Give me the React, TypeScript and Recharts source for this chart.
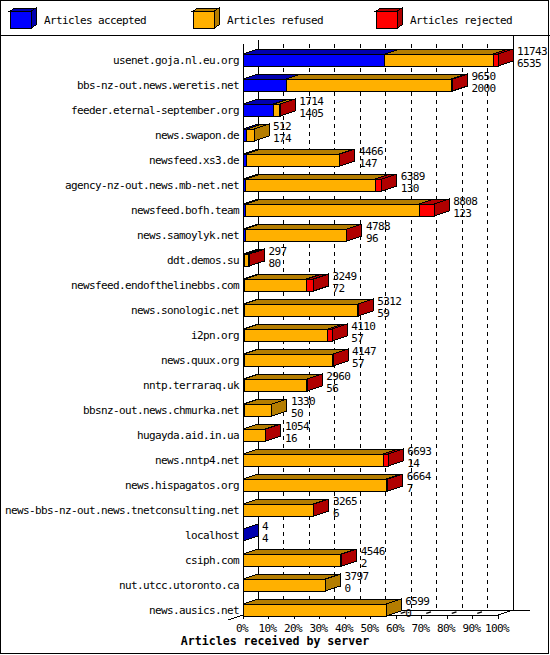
import React from 'react';
import { BarChart, Bar, XAxis, YAxis, CartesianGrid } from 'recharts';

const servers = [
  'usenet.goja.nl.eu.org',
  'bbs-nz-out.news.weretis.net',
  'feeder.eternal-september.org',
  'news.swapon.de',
  'newsfeed.xs3.de',
  'agency-nz-out.news.mb-net.net',
  'newsfeed.bofh.team',
  'news.samoylyk.net',
  'ddt.demos.su',
  'newsfeed.endofthelinebbs.com',
  'news.sonologic.net',
  'i2pn.org',
  'news.quux.org',
  'nntp.terraraq.uk',
  'bbsnz-out.news.chmurka.net',
  'hugayda.aid.in.ua',
  'news.nntp4.net',
  'news.hispagatos.org',
  'news-bbs-nz-out.news.tnetconsulting.net',
  'localhost',
  'csiph.com',
  'nut.utcc.utoronto.ca',
  'news.ausics.net',
];
const offered = [11743, 9650, 1714, 512, 4466, 6389, 8808, 4788, 297, 3249, 5312, 4110, 4147, 2960, 1330, 1054, 6693, 6664, 3265, 4, 4546, 3797, 6599];
const accepted = [6535, 2000, 1405, 174, 147, 130, 123, 96, 80, 72, 59, 57, 57, 56, 50, 16, 14, 7, 6, 4, 2, 0, 0];
const refused = [4978, 7590, 285, 338, 4294, 5964, 7995, 4680, 170, 2857, 5233, 3853, 4075, 2889, 1280, 1018, 6449, 6587, 3239, 0, 4504, 3797, 6599];
const rejected = [230, 60, 24, 0, 25, 295, 690, 12, 47, 320, 20, 200, 15, 15, 0, 20, 230, 70, 20, 0, 40, 0, 0];
const percentTicks = [0, 10, 20, 30, 40, 50, 60, 70, 80, 90, 100];
const legendLabels = ['Articles accepted', 'Articles refused', 'Articles rejected'];
const axisTitle = 'Articles received by server';

const MAX_OFFERED = Math.max(...offered);
const rows = servers.map((server, i) => ({
  server,
  offered: offered[i],
  accepted: accepted[i],
  acc: (accepted[i] / MAX_OFFERED) * 100,
  ref: (refused[i] / MAX_OFFERED) * 100,
  rej: (rejected[i] / MAX_OFFERED) * 100,
}));

const W = 550;
const H = 655;
const M_LEFT = 243;
const M_RIGHT = 52;
const PLOT_W = W - M_LEFT - M_RIGHT;
const DX = 15;
const DY = 5;
const BAR = 12;
const FONT = "'DejaVu Sans Mono', 'Liberation Mono', monospace";
const SERIES = ['acc', 'ref', 'rej'];
const FRONT: Record<string, string> = { acc: '#0000FF', ref: '#FFB000', rej: '#FF0000' };
const DARK: Record<string, string> = { acc: '#0000B0', ref: '#B47D00', rej: '#B00000' };

const txt = { fontFamily: FONT, fontSize: 11, letterSpacing: -0.62, fill: '#000' } as const;

function makeShape(key: string) {
  const me = SERIES.indexOf(key);
  return (props: any) => {
    const { x, y, width, height, payload } = props;
    if (!(width > 0) || !payload) return <g />;
    const isLast = SERIES.slice(me + 1).every((k) => !(payload[k] > 0));
    const x2 = x + width;
    const y2 = y + height;
    return (
      <g>
        <polygon
          points={`${x},${y} ${x2},${y} ${x2 + DX},${y - DY} ${x + DX},${y - DY}`}
          fill={DARK[key]}
          stroke="#000"
          strokeWidth={1}
          shapeRendering="crispEdges"
        />
        <rect x={x} y={y} width={width} height={height} fill={FRONT[key]} stroke="#000" strokeWidth={1} shapeRendering="crispEdges" />
        {isLast && (
          <polygon
            points={`${x2},${y} ${x2 + DX},${y - DY} ${x2 + DX},${y2 - DY} ${x2},${y2}`}
            fill={DARK[key]}
            stroke="#000"
            strokeWidth={1}
            shapeRendering="crispEdges"
          />
        )}
        {isLast && (
          <text x={x2 + DX + 4} y={y + 1} {...txt}>
            {payload.offered}
          </text>
        )}
        {isLast && (
          <text x={x2 + DX + 4} y={y2 + 0.5} {...txt}>
            {payload.accepted}
          </text>
        )}
      </g>
    );
  };
}

const accShape = makeShape('acc');
const refShape = makeShape('ref');
const rejShape = makeShape('rej');

const gridLine = (p: any) => {
  const { x1, y1, y2, index } = p;
  const pts: number[] | undefined = p.verticalPoints;
  const n = pts && pts.length ? pts.length : percentTicks.length;
  const floorFront = y2 - 7;
  const floorBack = floorFront - DY;
  const bx = x1 + DX;
  const ln = { stroke: '#000', strokeWidth: 1, shapeRendering: 'crispEdges' as const };
  if (index === 0) {
    const right = pts && pts.length ? pts[pts.length - 1] : x1 + PLOT_W;
    return (
      <g key={p.key}>
        <line x1={bx} y1={y1 - 7} x2={bx} y2={floorBack} {...ln} />
        <line x1={x1} y1={y1 - 3} x2={x1} y2={floorFront} {...ln} />
        <line x1={x1 - DX} y1={floorFront + DY} x2={x1} y2={floorFront} {...ln} />
        <line x1={x1} y1={floorFront} x2={right} y2={floorFront} {...ln} />
        <line x1={bx} y1={floorBack} x2={right + DX + 17} y2={floorBack} {...ln} />
        <line x1={x1} y1={floorFront} x2={x1} y2={floorFront + 4} {...ln} />
      </g>
    );
  }
  if (index === n - 1) {
    return (
      <g key={p.key}>
        <line x1={bx} y1={y1 - 11} x2={bx} y2={floorBack} {...ln} />
        <line x1={x1} y1={floorFront} x2={bx} y2={floorBack} {...ln} />
        <line x1={x1} y1={floorFront} x2={x1} y2={floorFront + 4} {...ln} />
      </g>
    );
  }
  return (
    <g key={p.key}>
      <line x1={bx} y1={y1 - 3} x2={bx} y2={floorBack} {...ln} strokeDasharray="4 4" />
      <line x1={x1} y1={floorFront} x2={bx} y2={floorBack} stroke="#000" strokeWidth={1.3} strokeDasharray="0 5 5 10" />
      <line x1={x1} y1={floorFront} x2={x1} y2={floorFront + 4} {...ln} />
    </g>
  );
};

const XTick = (p: any) => (
  <text x={p.x - 1} y={p.y + 10} textAnchor="middle" {...txt}>
    {`${p.payload.value}%`}
  </text>
);

const YTick = (p: any) => (
  <text x={p.x} y={p.y + 4.5} textAnchor="end" {...txt}>
    {p.payload.value}
  </text>
);

const TitleLabel = (lp: any) => {
  const vb = lp && lp.viewBox ? lp.viewBox : {};
  const y = (typeof vb.y === 'number' ? vb.y : 622) + 23;
  return (
    <text x={W / 2} y={y} textAnchor="middle" fontFamily={FONT} fontSize={11.6} fontWeight="bold" fill="#000">
      {axisTitle}
    </text>
  );
};

const legendX = [10, 193, 376];

function LegendBox({ x, k, label }: { x: number; k: string; label: string }) {
  const y = 11;
  const w = 21;
  const h = 17;
  const dx = 5;
  const dy = 3;
  return (
    <g shapeRendering="crispEdges">
      <polygon points={`${x},${y} ${x + w},${y} ${x + w + dx},${y - dy} ${x + dx},${y - dy}`} fill={DARK[k]} stroke="#000" />
      <polygon points={`${x + w},${y} ${x + w + dx},${y - dy} ${x + w + dx},${y + h - dy} ${x + w},${y + h}`} fill={DARK[k]} stroke="#000" />
      <rect x={x} y={y} width={w} height={h} fill={FRONT[k]} stroke="#000" />
      <text x={x + 34} y={24} {...txt}>
        {label}
      </text>
    </g>
  );
}

export default function App() {
  return (
    <div style={{ position: 'absolute', left: 0, top: 0, width: W, height: H, background: '#fff' }}>
      <BarChart
        width={W}
        height={H}
        data={rows}
        layout="vertical"
        margin={{ top: 47, right: M_RIGHT, bottom: 3, left: 0 }}
      >
        <CartesianGrid horizontal={false} vertical={gridLine} />
        <XAxis
          type="number"
          domain={[0, 100]}
          ticks={percentTicks}
          interval={0}
          axisLine={false}
          tickLine={false}
          tickSize={0}
          tickMargin={0}
          height={30}
          tick={XTick}
          label={{ content: TitleLabel }}
        />
        <YAxis
          type="category"
          dataKey="server"
          width={M_LEFT}
          interval={0}
          axisLine={false}
          tickLine={false}
          tickSize={0}
          tickMargin={4}
          tick={YTick}
        />
        <Bar dataKey="acc" stackId="s" barSize={BAR} isAnimationActive={false} shape={accShape} />
        <Bar dataKey="ref" stackId="s" barSize={BAR} isAnimationActive={false} shape={refShape} />
        <Bar dataKey="rej" stackId="s" barSize={BAR} isAnimationActive={false} shape={rejShape} />
      </BarChart>
      <svg width={W} height={H} style={{ position: 'absolute', left: 0, top: 0, pointerEvents: 'none' }}>
        <rect x={0.5} y={0.5} width={548} height={653} fill="none" stroke="#000" shapeRendering="crispEdges" />
        <line x1={0} y1={35.5} x2={W} y2={35.5} stroke="#000" shapeRendering="crispEdges" />
        {legendLabels.map((label, i) => (
          <LegendBox key={label} x={legendX[i]} k={SERIES[i]} label={label} />
        ))}
      </svg>
    </div>
  );
}
